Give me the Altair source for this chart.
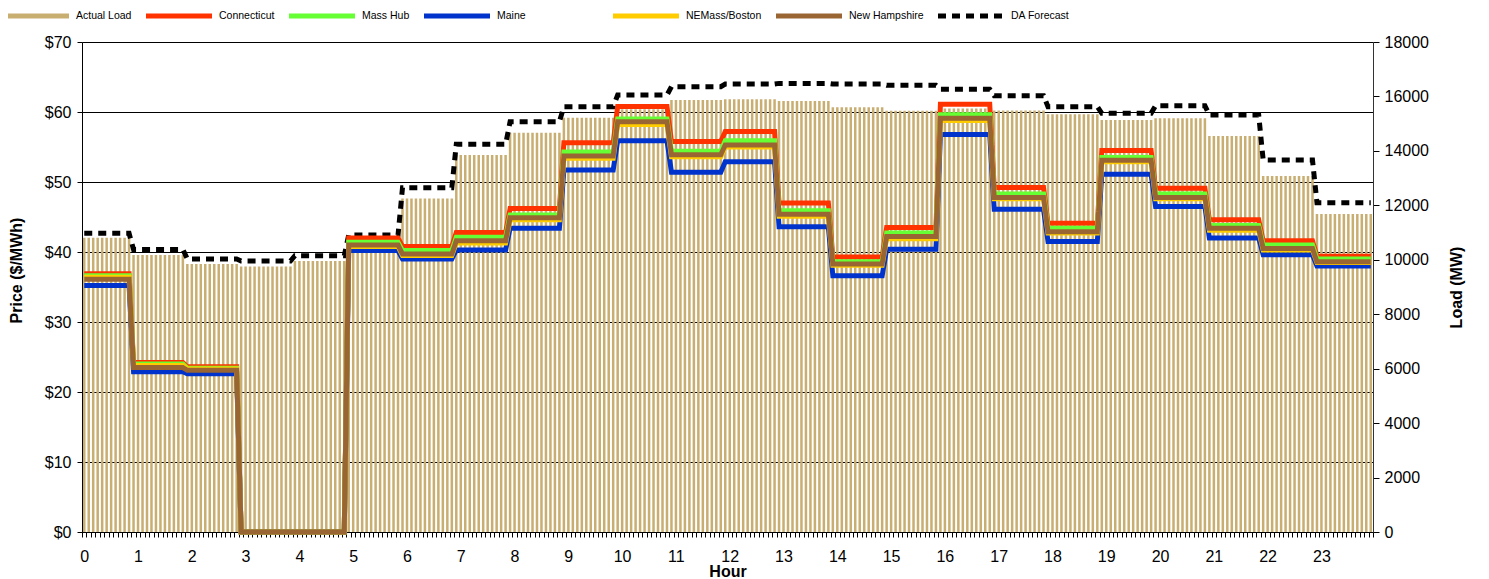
import altair as alt
import pandas as pd

# ---- data (hourly values) ----
hours = list(range(24))
actual_load = [10810, 10180, 9845, 9750, 9955, 10760, 12250, 13850, 14670, 15220, 15530, 15870,
               15895, 15833, 15600, 15476, 15560, 15480, 15343, 15135, 15197, 14547, 13078, 11682]
da_forecast = [10970, 10380, 10030, 9955, 10150, 10910, 12650, 14240, 15073, 15625, 16053, 16360,
               16457, 16480, 16457, 16408, 16262, 16030, 15625, 15380, 15660, 15318, 13665, 12097]
connecticut = [36.9, 24.2, 23.6, 0, 0, 42.0, 40.8, 42.8, 46.2, 55.6, 60.8, 55.8,
               57.2, 47.0, 39.3, 43.5, 61.1, 49.2, 44.1, 54.5, 49.1, 44.6, 41.6, 39.4]
mass_hub = [36.6, 24.0, 23.4, 0, 0, 41.4, 40.2, 42.1, 45.3, 54.3, 59.0, 54.4,
            55.9, 45.9, 38.6, 42.7, 59.6, 48.3, 43.4, 53.5, 48.3, 43.8, 41.0, 39.0]
maine = [35.2, 22.9, 22.6, 0, 0, 40.2, 39.0, 40.3, 43.4, 51.7, 55.9, 51.4,
         52.9, 43.6, 36.6, 40.4, 56.8, 46.1, 41.5, 51.1, 46.5, 42.0, 39.6, 38.0]
nemass_boston = [36.4, 23.8, 23.3, 0, 0, 40.8, 39.5, 41.3, 44.6, 53.4, 58.2, 53.6,
                 55.0, 45.1, 38.1, 41.9, 58.8, 47.6, 42.7, 52.9, 47.6, 43.1, 40.3, 38.5]
new_hampshire = [36.1, 23.5, 23.1, 0, 0, 41.0, 39.7, 41.6, 44.9, 53.7, 58.6, 53.9,
                 55.3, 45.4, 38.3, 42.2, 59.1, 47.8, 42.9, 53.1, 47.8, 43.4, 40.5, 38.6]

series_names = ["Actual Load", "Connecticut", "Mass Hub", "Maine", "NEMass/Boston",
                "New Hampshire", "DA Forecast"]
series_colors = ["#C9AE72", "#FF3300", "#66FF33", "#0033CC", "#FFCC00", "#996633", "#000000"]
series_dash = [[1, 0], [1, 0], [1, 0], [1, 0], [1, 0], [1, 0], [8, 6]]
price_series = {
    "Connecticut": connecticut,
    "Mass Hub": mass_hub,
    "Maine": maine,
    "NEMass/Boston": nemass_boston,
    "New Hampshire": new_hampshire,
}
intervals_per_hour = 12

# ---- tables (5-minute intervals, hour-ending assignment) ----
n = 24 * intervals_per_hour
hour_of = [min((i + 1) // intervals_per_hour, 23) for i in range(n)]

bars = pd.DataFrame({
    "x0": [i + 0.22 for i in range(n)],
    "x1": [i + 0.78 for i in range(n)],
    "load": [actual_load[h] for h in hour_of],
    "series": "Actual Load",
})
da = pd.DataFrame({
    "x": [i + 0.5 for i in range(n)],
    "load": [da_forecast[h] for h in hour_of],
    "series": "DA Forecast",
})
price_rows = []
for name, vals in price_series.items():
    for i in range(n):
        price_rows.append({"x": i + 0.5, "price": vals[hour_of[i]], "series": name})
prices = pd.DataFrame(price_rows)

FONT = "Liberation Sans"

x_scale = alt.Scale(domain=[0, n], nice=False, zero=False)
load_scale = alt.Scale(domain=[0, 18000], nice=False)
price_scale = alt.Scale(domain=[0, 70], nice=False)
color_scale = alt.Scale(domain=series_names, range=series_colors)
dash_scale = alt.Scale(domain=series_names, range=series_dash)

x_axis = alt.Axis(
    values=list(range(0, n + 1)),
    labelExpr="datum.value % 12 == 0 && datum.value < 288 ? toString(datum.value / 12) : ''",
    labelOverlap=False, labelFlush=False, labelOffset=2.2,
    tickSize=5, tickColor="black", domainColor="black",
    labelFont=FONT, labelFontSize=16, labelColor="black", labelPadding=11,
    title="Hour", titleFont=FONT, titleFontSize=16, titleFontWeight="bold",
    titleColor="black", titlePadding=-1, grid=False,
)
price_axis = alt.Axis(
    orient="left", values=[0, 10, 20, 30, 40, 50, 60, 70],
    labelExpr="'$' + datum.value",
    grid=True, gridColor="black", gridWidth=1, gridOpacity=1,
    tickSize=5, tickColor="black", domainColor="black",
    labelFont=FONT, labelFontSize=16, labelColor="black", labelPadding=6,
    title="Price ($/MWh)", titleFont=FONT, titleFontSize=16, titleFontWeight="bold",
    titleColor="black", titlePadding=20, titleY=228,
)
load_axis = alt.Axis(
    orient="right", values=list(range(0, 18001, 2000)), format="d",
    grid=False, tickSize=6, tickColor="black", domainColor="#333333",
    labelFont=FONT, labelFontSize=16, labelColor="black", labelPadding=5,
    title="Load (MW)", titleFont=FONT, titleFontSize=16, titleFontWeight="bold",
    titleColor="black", titlePadding=36, titleAngle=270,
)

# legend: "Maine" entry gets invisible trailing room (non-breaking spaces closed by a
# zero-width space so that the padding is not trimmed) to match the reference spacing
PAD = "\u00a0" * 25 + "\u200b"
legend = alt.Legend(
    orient="none", direction="horizontal", columns=7, legendX=-54, legendY=-34,
    title=None, symbolType="M-6,0H6", symbolSize=121, symbolStrokeWidth=5,
    labelFont=FONT, labelFontSize=10.5, labelColor="black", labelOffset=32,
    columnPadding=4, padding=0,
    labelExpr="datum.label == 'Maine' ? 'Maine" + PAD + "' : datum.label",
)

color_enc = alt.Color("series:N", scale=color_scale, legend=legend)
dash_enc = alt.StrokeDash("series:N", scale=dash_scale, legend=legend)

bar_layer = alt.Chart(bars).mark_bar().encode(
    x=alt.X("x0:Q", scale=x_scale, axis=x_axis),
    x2="x1:Q",
    y=alt.Y("load:Q", scale=load_scale, axis=load_axis),
    y2=alt.datum(0),
    color=color_enc,
    strokeDash=dash_enc,
)

da_layer = alt.Chart(da).mark_line(strokeWidth=5).encode(
    x=alt.X("x:Q", scale=x_scale, axis=x_axis),
    y=alt.Y("load:Q", scale=load_scale, axis=load_axis),
    color=color_enc,
    strokeDash=dash_enc,
)

price_layers = []
for name in price_series:
    price_layers.append(
        alt.Chart(prices).transform_filter(alt.datum.series == name)
        .mark_line(strokeWidth=5).encode(
            x=alt.X("x:Q", scale=x_scale, axis=x_axis),
            y=alt.Y("price:Q", scale=price_scale, axis=price_axis),
            color=color_enc,
            strokeDash=dash_enc,
        )
    )

load_part = alt.layer(bar_layer, da_layer)
price_part = alt.layer(*price_layers)

chart = (
    alt.layer(load_part, price_part)
    .resolve_scale(y="independent")
    .properties(width=1291, height=490,
                padding={"left": 0, "top": 0, "right": 5, "bottom": 0})
    .configure_view(stroke=None)
    .configure(background="white")
)

chart.save("out.html", embed_options={"renderer": "svg", "actions": False})
